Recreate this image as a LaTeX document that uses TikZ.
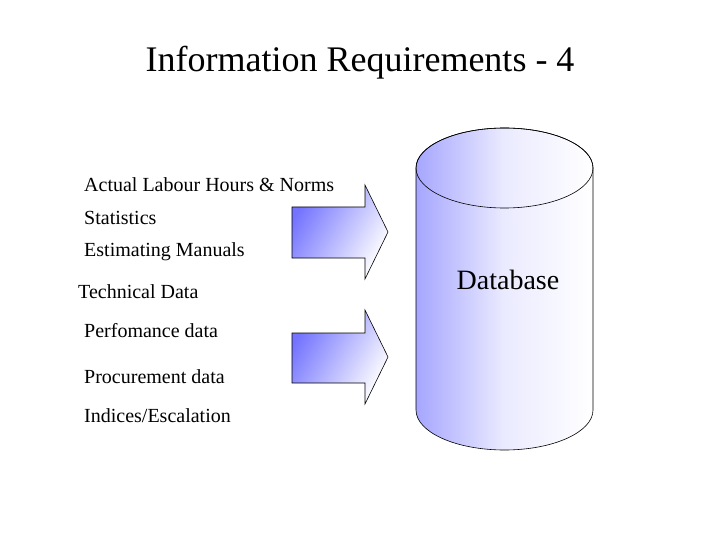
\documentclass[tikz,border=0pt]{standalone}
\usepackage{fontspec}
\setmainfont{Liberation Serif}
\begin{document}
\begin{tikzpicture}[x=1pt,y=-1pt,
  item/.style={anchor=west,inner sep=0pt,font=\fontsize{20}{24}\selectfont},
  arr/.style={draw=black,line width=0.6pt,left color=blue!55!white,right color=white,shading angle=60}]
\useasboundingbox (0,0) rectangle (720,540);
\node (title) at (360,63) {\fontsize{36}{42}\selectfont Information Requirements - 4};
\node[item] (i1) at (84,185) {Actual Labour Hours \& Norms};
\node[item] (i2) at (84,218) {Statistics};
\node[item] (i3) at (84,252) {Estimating Manuals};
\node[item] (i4) at (78,292) {Technical Data};
\node[item] (i5) at (84,331) {Perfomance data};
\node[item] (i6) at (84,377) {Procurement data};
\node[item] (i7) at (84,416) {Indices/Escalation};
\path[arr] (292,207) -- (365,207) -- (365,185) -- (388,232) -- (365,279) -- (365,258) -- (292,258) -- cycle;
\path[arr] (292,333) -- (365,333) -- (365,310) -- (388,357) -- (365,404) -- (365,383) -- (292,383) -- cycle;
\path[draw=black,line width=0.6pt,left color=blue!35!white,right color=white,middle color=blue!8!white]
  (416,168) -- (416,410) arc[start angle=180,end angle=0,x radius=88.5,y radius=40] -- (593,168) arc[start angle=0,end angle=-180,x radius=88.5,y radius=40] -- cycle;
\draw[line width=0.6pt] (504.5,168) ellipse[x radius=88.5,y radius=40];
\node (db) at (508,280) {\fontsize{28}{34}\selectfont Database};
\end{tikzpicture}
\end{document}
